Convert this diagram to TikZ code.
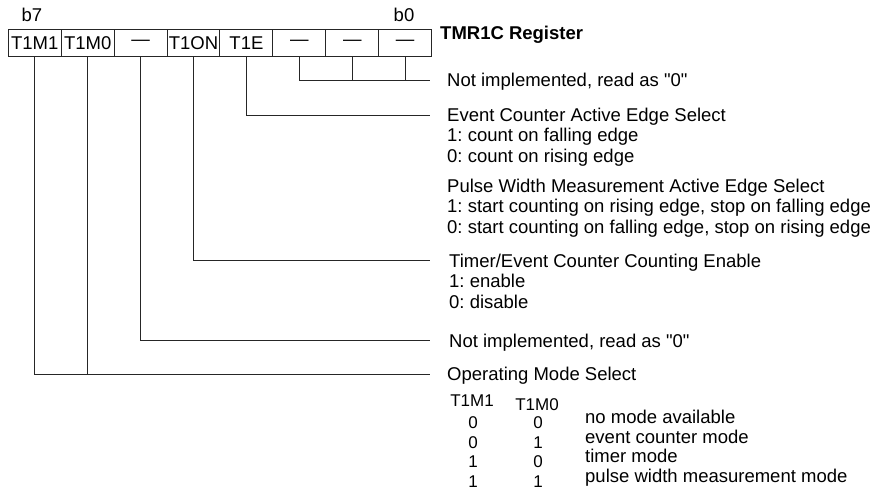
\documentclass[tikz,border=0pt]{standalone}
\usepackage{fontspec}
\setmainfont{Liberation Sans}[Ligatures=TeXOff]
\usetikzlibrary{positioning}
\frenchspacing
\newcommand{\regfont}{\fontsize{18.5}{20.5}\selectfont}
\newcommand{\tabfont}{\fontsize{17}{19}\selectfont}

\begin{document}
\begin{tikzpicture}[x=1pt, y=-1pt,
		regbit/.style={draw=black!85, line width=1pt, minimum width=52.92pt, minimum height=27pt, inner sep=0pt, outer sep=0pt, font=\regfont},
		txt/.style={anchor=base west, inner sep=0pt, font=\regfont},
		tab/.style={anchor=base, inner sep=0pt, font=\tabfont},
		wire/.style={line width=1pt, color=black!85}]
			%%%%% START %%%%%
			\useasboundingbox (0,0) rectangle (875,490);
			
			% register cells
			\node[regbit] (b7) at (34.76,43) {T1M1};
			\node[regbit, right=0pt of b7] (b6) {T1M0};
			\node[regbit, right=0pt of b6] (b5) {\textemdash};
			\node[regbit, right=0pt of b5] (b4) {T1ON};
			\node[regbit, right=0pt of b4] (b3) {T1E};
			\node[regbit, right=0pt of b3] (b2) {\textemdash};
			\node[regbit, right=0pt of b2] (b1) {\textemdash};
			\node[regbit, right=0pt of b1] (b0) {\textemdash};
			
			\node[txt, anchor=base] (msb) at (32,21) {b7};
			\node[txt, anchor=base] (lsb) at (404,21) {b0};
			\node[txt, font=\regfont\bfseries] (title) at (440,39.5) {TMR1C Register};
			
			% bit lines
			\coordinate (unused) at (430,80);
			\draw[wire] (b2.south) |- (unused);
			\draw[wire] (b1.south) -- (b1.south |- unused);
			\draw[wire] (b0.south) -- (b0.south |- unused);
			
			\coordinate (edge) at (430,115);
			\draw[wire] (b3.south) |- (edge);
			
			\coordinate (enable) at (430,260.7);
			\draw[wire] (b4.south) |- (enable);
			
			\coordinate (reserved) at (430,340.7);
			\draw[wire] (b5.south) |- (reserved);
			
			\coordinate (mode) at (430,374);
			\draw[wire] (b7.south) |- (mode);
			\draw[wire] (b6.south) -- (b6.south |- mode);
			
			% descriptions
			\node[txt] (unusedA) at (447,86) {Not implemented, read as "0"};
			
			\node[txt] (edgeA) at (447,121) {Event Counter Active Edge Select};
			\node[txt] (edgeB) at (447,141.5) {1: count on falling edge};
			\node[txt] (edgeC) at (447,162) {0: count on rising edge};
			\node[txt] (pulseA) at (447,192) {Pulse Width Measurement Active Edge Select};
			\node[txt] (pulseB) at (447,212.5) {1: start counting on rising edge, stop on falling edge};
			\node[txt] (pulseC) at (447,233) {0: start counting on falling edge, stop on rising edge};
			
			\node[txt] (enableA) at (449,267) {Timer/Event Counter Counting Enable};
			\node[txt] (enableB) at (449,287.5) {1: enable};
			\node[txt] (enableC) at (449,308) {0: disable};
			
			\node[txt] (reservedA) at (449,347) {Not implemented, read as "0"};
			
			\node[txt] (modeA) at (447,380.5) {Operating Mode Select};
			
			% mode table
			\node[tab] (colA) at (472,406) {T1M1};
			\node[tab] (colB) at (537,410) {T1M0};
			
			\node[tab] (rowAa) at (473,428.5) {0};
			\node[tab] (rowAb) at (538,428.5) {0};
			\node[txt] (rowAc) at (585,423.5) {no mode available};
			
			\node[tab] (rowBa) at (473,448) {0};
			\node[tab] (rowBb) at (538,448) {1};
			\node[txt] (rowBc) at (585,443) {event counter mode};
			
			\node[tab] (rowCa) at (473,467.5) {1};
			\node[tab] (rowCb) at (538,467.5) {0};
			\node[txt] (rowCc) at (585,462.5) {timer mode};
			
			\node[tab] (rowDa) at (473,487) {1};
			\node[tab] (rowDb) at (538,487) {1};
			\node[txt] (rowDc) at (585,482) {pulse width measurement mode};
			
			%%%%% END %%%%%
\end{tikzpicture}
\end{document}
